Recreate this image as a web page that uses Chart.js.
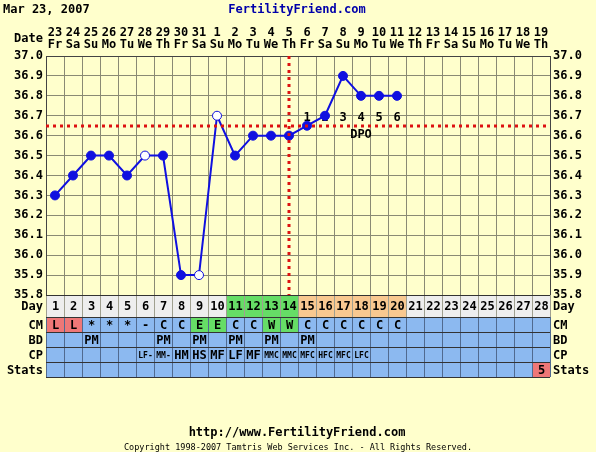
<!DOCTYPE html>
<html lang="en">
<head>
<meta charset="UTF-8">
<title>Fertility Chart - Mar 23, 2007</title>
<script src="https://cdn.jsdelivr.net/npm/chart.js@4.4.1/dist/chart.umd.min.js"></script>
<style>
  html, body { margin: 0; padding: 0; background: #ffffcc; }
  canvas { display: block; }
</style>
</head>
<body>
<canvas id="bbtChart" width="596" height="452"></canvas>
<script>
// ---- cycle data ----
const cycleDays = [1,2,3,4,5,6,7,8,9,10,11,12,13,14,15,16,17,18,19,20,21,22,23,24,25,26,27,28];
const dates = ['23','24','25','26','27','28','29','30','31','1','2','3','4','5',
               '6','7','8','9','10','11','12','13','14','15','16','17','18','19'];
const weekdays = ['Fr','Sa','Su','Mo','Tu','We','Th','Fr','Sa','Su','Mo','Tu','We','Th',
                  'Fr','Sa','Su','Mo','Tu','We','Th','Fr','Sa','Su','Mo','Tu','We','Th'];
const temps = [36.3, 36.4, 36.5, 36.5, 36.4, 36.5, 36.5, 35.9, 35.9, 36.7,
               36.5, 36.6, 36.6, 36.6, 36.65, 36.7, 36.9, 36.8, 36.8, 36.8,
               null, null, null, null, null, null, null, null];
const openDays = [6, 9, 10];          // discarded / open-circle temps
const coverline = 36.65;
const ovulationDay = 14;
const dpoLabels = ['1','2','3','4','5','6'];
const fertileDays = [11, 12, 13, 14];
const cmValues = ['L','L','*','*','*','-','C','C','E','E','C','C','W','W','C','C','C','C','C','C','','','','','','','',''];
const bdValues = ['','','PM','','','','PM','','PM','','PM','','PM','','PM','','','','','','','','','','','','',''];
const cpValues = ['','','','','','LF-','MM-','HM','HS','MF','LF','MF','MMC','MMC','MFC','HFC','MFC','LFC','','','','','','','','','',''];
const statsValues = ['','','','','','','','','','','','','','','','','','','','','','','','','','','','5'];

const FONT = "'DejaVu Sans Mono', monospace";
const BG = '#ffffcc';
const BLUE = '#1010e0';

function cellColor(row, day, val) {
  if (row === 'Day') {
    if (fertileDays.includes(day)) return '#66dd66';
    if (day > ovulationDay && day <= ovulationDay + dpoLabels.length) return '#f8c890';
    return '#eeeeee';
  }
  if (row === 'CM') {
    if (val === 'L') return '#ee7777';
    if (val === 'E' || val === 'W') return '#66dd66';
  }
  if (row === 'Stats' && val) return '#ee7777';
  return '#8cb9f0';
}

const fertilityPlugin = {
  id: 'fertility',
  beforeDraw(chart) {
    const ctx = chart.ctx;
    ctx.save();
    ctx.fillStyle = BG;
    ctx.fillRect(0, 0, chart.width, chart.height);
    ctx.textBaseline = 'middle';
    ctx.font = 'bold 12px ' + FONT;
    ctx.fillStyle = '#000';
    ctx.textAlign = 'left';
    ctx.fillText('Mar 23, 2007', 3, 10);
    ctx.textAlign = 'right';
    ctx.fillText('Date', chart.chartArea.left - 3, 39);
    ctx.textAlign = 'center';
    ctx.fillStyle = '#0000aa';
    ctx.fillText('FertilityFriend.com', 297, 10);
    ctx.fillStyle = '#000';
    ctx.fillText('http://www.FertilityFriend.com', 297, 433);
    ctx.font = '8.5px ' + FONT;
    ctx.fillText('Copyright 1998-2007 Tamtris Web Services Inc. - All Rights Reserved.', 298, 448);
    ctx.restore();
  },
  beforeDatasetsDraw(chart) {
    // DPO counters above the coverline
    const ctx = chart.ctx, x = chart.scales.x, y = chart.scales.y;
    const cy = y.getPixelForValue(coverline);
    ctx.save();
    ctx.font = 'bold 12px ' + FONT;
    ctx.fillStyle = '#000';
    ctx.textAlign = 'center';
    ctx.textBaseline = 'middle';
    dpoLabels.forEach((t, k) => {
      ctx.fillText(t, x.getPixelForValue(ovulationDay + k), cy - 8);
    });
    ctx.fillText('DPO', x.getPixelForValue(ovulationDay + Math.floor(dpoLabels.length / 2)), cy + 9);
    ctx.restore();
  },
  afterDatasetsDraw(chart) {
    const ctx = chart.ctx, x = chart.scales.x, y = chart.scales.y, a = chart.chartArea;
    const cy = Math.round(y.getPixelForValue(coverline));
    const ox = Math.round(x.getPixelForValue(ovulationDay - 1));
    ctx.save();
    ctx.strokeStyle = '#dd1111';
    ctx.lineWidth = 3;
    ctx.setLineDash([3, 4]);
    ctx.beginPath();
    ctx.moveTo(a.left, cy);
    ctx.lineTo(a.right, cy);
    ctx.moveTo(ox, a.top);
    ctx.lineTo(ox, a.bottom);
    ctx.stroke();
    ctx.restore();
  },
  afterDraw(chart) {
    // observation table under the temperature grid
    const ctx = chart.ctx, x = chart.scales.x, a = chart.chartArea;
    const colW = x.getPixelForValue(1) - x.getPixelForValue(0);
    const rows = [
      { label: 'Day', h: 22, values: cycleDays.map(String) },
      { label: 'CM', h: 15, values: cmValues },
      { label: 'BD', h: 15, values: bdValues },
      { label: 'CP', h: 15, values: cpValues },
      { label: 'Stats', h: 15, values: statsValues }
    ];
    ctx.save();
    ctx.textBaseline = 'middle';
    let top = a.bottom;
    rows.forEach(row => {
      cycleDays.forEach((d, i) => {
        const cx = x.getPixelForValue(i);
        const left = cx - colW / 2;
        ctx.fillStyle = cellColor(row.label, d, row.values[i]);
        ctx.fillRect(left, top, colW, row.h);
        const v = row.values[i];
        if (v) {
          ctx.fillStyle = '#000';
          ctx.textAlign = 'center';
          ctx.font = (v.length >= 3 ? 'bold 8px ' : 'bold 12px ') + FONT;
          ctx.fillText(v, cx + 0.5, top + row.h / 2 + 1);
        }
      });
      // column dividers
      ctx.strokeStyle = row.label === 'Day' ? '#a0a090' : '#506a90';
      ctx.lineWidth = 1;
      ctx.beginPath();
      for (let i = 0; i <= cycleDays.length; i++) {
        const px = Math.round(x.getPixelForValue(0) - colW / 2 + i * colW) + 0.5;
        ctx.moveTo(px, top);
        ctx.lineTo(px, top + row.h);
      }
      ctx.stroke();
      // row border
      ctx.strokeStyle = '#333';
      ctx.beginPath();
      ctx.moveTo(a.left, Math.round(top) + 0.5);
      ctx.lineTo(a.right, Math.round(top) + 0.5);
      ctx.stroke();
      // row labels on both sides
      ctx.fillStyle = '#000';
      ctx.font = 'bold 12px ' + FONT;
      ctx.textAlign = 'right';
      ctx.fillText(row.label, a.left - 3, top + row.h / 2 + 1);
      ctx.textAlign = 'left';
      ctx.fillText(row.label, a.right + 3, top + row.h / 2 + 1);
      top += row.h;
    });
    ctx.strokeStyle = '#333';
    ctx.beginPath();
    ctx.moveTo(a.left, Math.round(top) + 0.5);
    ctx.lineTo(a.right, Math.round(top) + 0.5);
    ctx.stroke();
    ctx.restore();
  }
};

const tickFont = { family: FONT, size: 12, weight: 'bold', lineHeight: 1 };

new Chart(document.getElementById('bbtChart'), {
  type: 'line',
  data: {
    labels: dates.map((d, i) => [d, weekdays[i]]),
    datasets: [{
      data: temps,
      borderColor: BLUE,
      borderWidth: 2,
      pointRadius: 4.5,
      pointBorderWidth: 1,
      pointBorderColor: BLUE,
      pointBackgroundColor: cycleDays.map(d => openDays.includes(d) ? '#ffffff' : BLUE),
      tension: 0,
      spanGaps: false
    }]
  },
  options: {
    responsive: false,
    devicePixelRatio: 1,
    animation: false,
    layout: { padding: { left: 0, right: 0, top: 0, bottom: 157 } },
    plugins: { legend: { display: false }, tooltip: { enabled: false } },
    scales: {
      x: {
        type: 'category',
        position: 'top',
        offset: true,
        grid: { offset: true, color: '#8a8a74', drawTicks: false },
        border: { color: '#444' },
        ticks: { font: tickFont, color: '#000', padding: 5, autoSkip: false, maxRotation: 0 },
        afterFit(scale) { scale.height = 56; }
      },
      y: {
        position: 'left',
        min: 35.8,
        max: 37.0,
        grid: { color: '#8a8a74', drawTicks: false },
        border: { color: '#444' },
        ticks: {
          stepSize: 0.1, font: tickFont, color: '#000', padding: 3,
          callback: v => Number(v).toFixed(1)
        },
        afterFit(scale) { scale.width = 46; }
      },
      y2: {
        position: 'right',
        min: 35.8,
        max: 37.0,
        grid: { drawOnChartArea: false, drawTicks: false },
        border: { color: '#444' },
        ticks: {
          stepSize: 0.1, font: tickFont, color: '#000', padding: 3,
          callback: v => Number(v).toFixed(1)
        },
        afterFit(scale) { scale.width = 46; }
      }
    }
  },
  plugins: [fertilityPlugin]
});
</script>
</body>
</html>
